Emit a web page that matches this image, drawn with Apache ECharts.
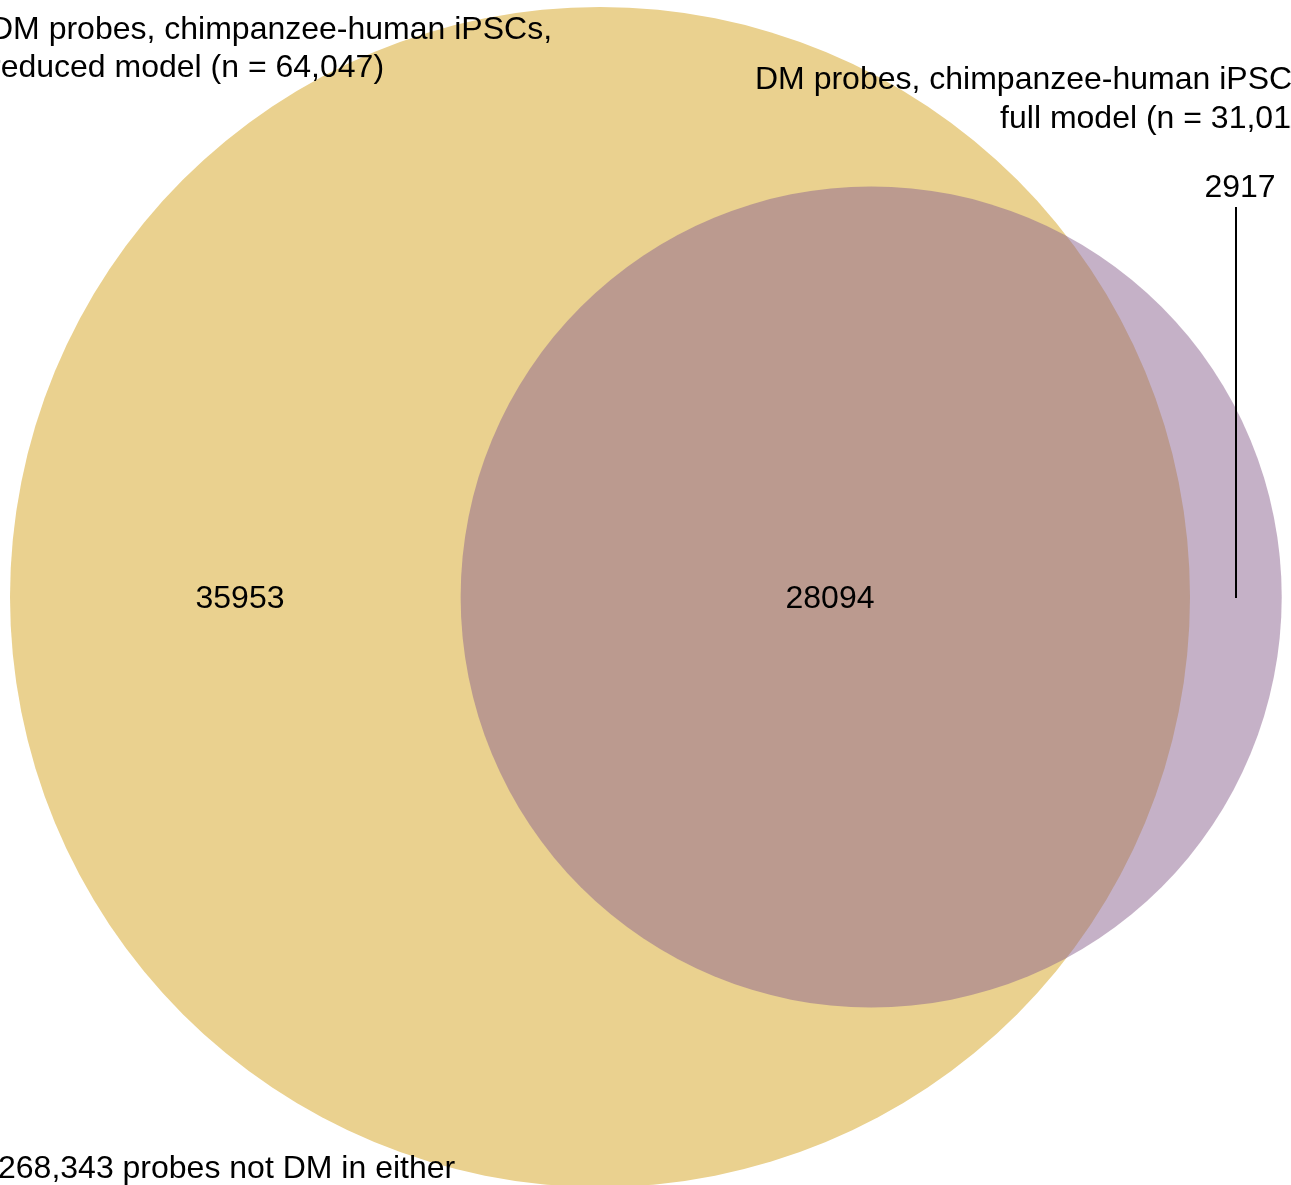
<!DOCTYPE html>
<html>
<head>
<meta charset="utf-8">
<script src="https://cdn.jsdelivr.net/npm/echarts@6/dist/echarts.min.js"></script>
<style>
html,body{margin:0;padding:0;background:#fff;}
#chart{width:1291px;height:1185px;}
</style>
</head>
<body>
<div id="chart"></div>
<script>
// ---- data ----
const setLabels = [
  ['DM probes, chimpanzee-human iPSCs,', 'reduced model (n = 64,047)'],
  ['DM probes, chimpanzee-human iPSCs,', 'full model (n = 31,011)']
];
const setSizes = [64047, 31011];
const overlapSize = 28094;
const regionCounts = ['35953', '28094', '2917'];
const outsideLabel = '268,343 probes not DM in either';
const setColors = ['#EAD18F', 'rgba(139,99,143,0.5)'];

// ---- geometry (areas proportional to counts) ----
const r1 = Math.sqrt(setSizes[0] / Math.PI);
const r2 = Math.sqrt(setSizes[1] / Math.PI);
function lens(d) {
  const a1 = r1 * r1 * Math.acos((d * d + r1 * r1 - r2 * r2) / (2 * d * r1));
  const a2 = r2 * r2 * Math.acos((d * d + r2 * r2 - r1 * r1) / (2 * d * r2));
  const t = 0.5 * Math.sqrt((-d + r1 + r2) * (d + r1 - r2) * (d - r1 + r2) * (d + r1 + r2));
  return a1 + a2 - t;
}
let lo = r1 - r2 + 1e-9, hi = r1 + r2 - 1e-9;
for (let i = 0; i < 100; i++) {
  const mid = (lo + hi) / 2;
  if (lens(mid) > overlapSize) lo = mid; else hi = mid;
}
const dist = (lo + hi) / 2;
const circles = [[0, 0, r1, 0], [dist, 0, r2, 1]];

// ---- layout ----
const W = 1291, H = 1185;
const pxPerUnit = 590 / r1;
const cxPx = 600, cyPx = 597;

const chart = echarts.init(document.getElementById('chart'), null, {renderer: 'canvas'});
const font = '"Liberation Sans", Helvetica, Arial, sans-serif';
const fs = 32;
function txt(text, x, y, align) {
  return {type: 'text', x: x, y: y, z: 10, style: {text: text, fontSize: fs, fontFamily: font, fill: '#000', align: align, verticalAlign: 'middle'}};
}

chart.setOption({
  animation: false,
  grid: {left: 0, right: 0, top: 0, bottom: 0},
  xAxis: {type: 'value', min: -cxPx / pxPerUnit, max: (W - cxPx) / pxPerUnit, show: false},
  yAxis: {type: 'value', min: -(H - cyPx) / pxPerUnit, max: cyPx / pxPerUnit, show: false},
  series: [{
    type: 'custom',
    data: circles,
    renderItem: function (params, api) {
      const c = api.coord([api.value(0), api.value(1)]);
      const e = api.coord([api.value(0) + api.value(2), api.value(1)]);
      return {type: 'circle', shape: {cx: c[0], cy: c[1], r: e[0] - c[0]}, style: {fill: setColors[api.value(3)]}};
    },
    silent: true
  }],
  graphic: [
    txt(setLabels[0][0], -10, 30, 'left'),
    txt(setLabels[0][1], -10, 68, 'left'),
    txt(setLabels[1][0], 1317, 80, 'right'),
    txt(setLabels[1][1], 1317, 119, 'right'),
    txt(regionCounts[0], 240, 599, 'center'),
    txt(regionCounts[1], 830, 599, 'center'),
    txt(regionCounts[2], 1240, 188, 'center'),
    txt(outsideLabel, -2, 1169, 'left'),
    {type: 'line', z: 10, shape: {x1: 1236, y1: 207, x2: 1236, y2: 598}, style: {stroke: '#000', lineWidth: 2}}
  ]
});
</script>
</body>
</html>
